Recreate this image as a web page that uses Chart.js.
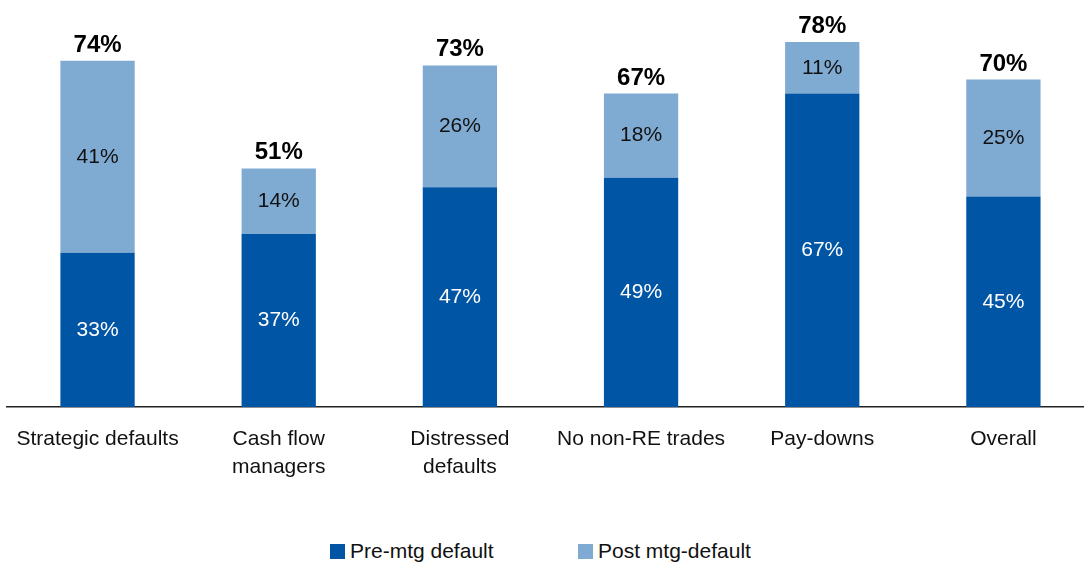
<!DOCTYPE html>
<html>
<head>
<meta charset="utf-8">
<script src="https://cdn.jsdelivr.net/npm/chart.js@4/dist/chart.umd.min.js"></script>
<style>
  html, body { margin: 0; padding: 0; background: #fff; overflow: hidden; width: 1084px; height: 563px; }
  #wrap { position: absolute; left: -2px; top: 0; width: 1096px; height: 499px; }
  .legend { position: absolute; top: 539px; line-height: 24px; font: 21px "Liberation Sans", Arial, sans-serif; color: #111; display: flex; align-items: center; }
  .legend i { display: inline-block; width: 15px; height: 15px; margin-right: 5px; }
</style>
</head>
<body>
<div id="wrap"><canvas id="chart"></canvas></div>
<div class="legend" style="left:330px;"><i style="background:#0055A4"></i>Pre-mtg default</div>
<div class="legend" style="left:578px;"><i style="background:#7FAAD2"></i>Post mtg-default</div>
<script>
  /* ---------- data ---------- */
  const categories = [
    'Strategic defaults',
    ['Cash flow', 'managers'],
    ['Distressed', 'defaults'],
    'No non-RE trades',
    'Pay-downs',
    'Overall'
  ];
  const preDefault = [33, 37, 47, 49, 67, 45];
  const postDefault = [41, 14, 26, 18, 11, 25];
  const totals = [74, 51, 73, 67, 78, 70];

  const DARK = '#0055A4';
  const LIGHT = '#7FAAD2';
  const FONT = '"Liberation Sans", Arial, sans-serif';

  // segment values inside the bars + totals on top
  const barLabels = {
    id: 'barLabels',
    afterDatasetsDraw(chart) {
      const ctx = chart.ctx;
      ctx.save();
      ctx.textAlign = 'center';
      chart.data.datasets.forEach((ds, i) => {
        const meta = chart.getDatasetMeta(i);
        meta.data.forEach((bar, j) => {
          ctx.font = '21px ' + FONT;
          ctx.fillStyle = i === 0 ? '#fff' : '#111';
          ctx.textBaseline = 'middle';
          ctx.fillText(ds.data[j] + '%', bar.x, (bar.y + bar.base) / 2);
        });
      });
      const top = chart.getDatasetMeta(1);
      top.data.forEach((bar, j) => {
        ctx.font = 'bold 24px ' + FONT;
        ctx.fillStyle = '#000';
        ctx.textBaseline = 'alphabetic';
        ctx.fillText(totals[j] + '%', bar.x, bar.y - 9);
      });
      ctx.restore();
    }
  };

  new Chart(document.getElementById('chart'), {
    type: 'bar',
    data: {
      labels: categories,
      datasets: [
        { label: 'Pre-mtg default', data: preDefault, backgroundColor: DARK },
        { label: 'Post mtg-default', data: postDefault, backgroundColor: LIGHT }
      ]
    },
    options: {
      responsive: true,
      maintainAspectRatio: false,
      animation: false,
      categoryPercentage: 1,
      barPercentage: 0.41,
      layout: { padding: { left: 5, right: 0, top: 0, bottom: 0 } },
      plugins: { legend: { display: false }, tooltip: { enabled: false } },
      scales: {
        x: {
          stacked: true,
          grid: { display: false, drawTicks: false },
          border: { display: true, color: '#222', width: 1.5 },
          ticks: { color: '#111', padding: 18, maxRotation: 0, autoSkip: false,
                   font: { size: 21, family: FONT, lineHeight: 1.333 } }
        },
        y: {
          stacked: true, display: false, min: 0, max: 87
        }
      }
    },
    plugins: [barLabels]
  });
</script>
</body>
</html>
